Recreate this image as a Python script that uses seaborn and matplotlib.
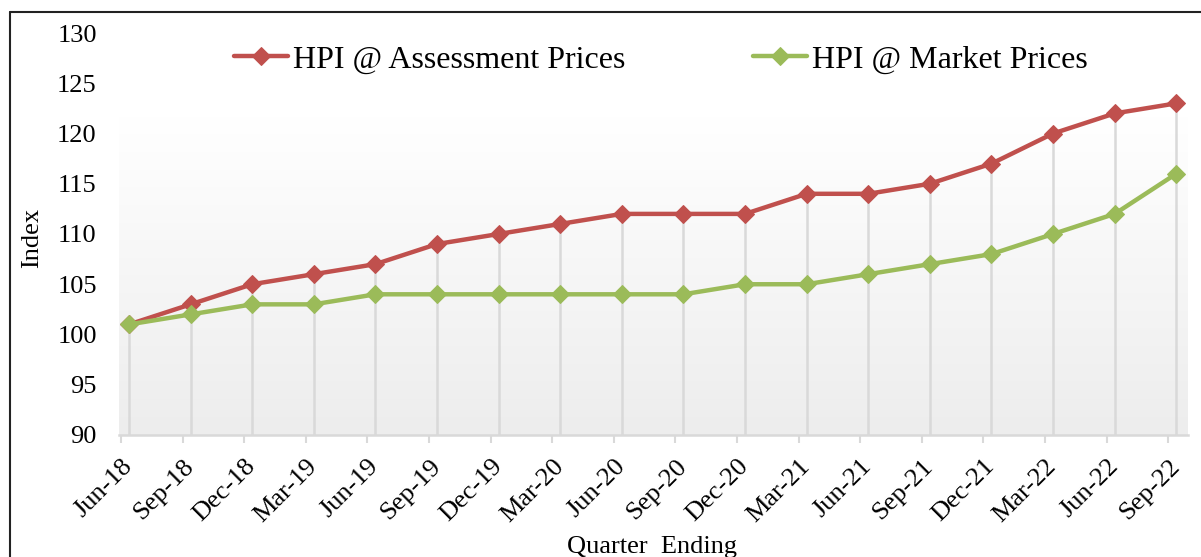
import numpy as np
import pandas as pd
import matplotlib
matplotlib.use("Agg")
import matplotlib.pyplot as plt
import seaborn as sns
from matplotlib.colors import LinearSegmentedColormap
from matplotlib.lines import Line2D

quarters = ['Jun-18', 'Sep-18', 'Dec-18', 'Mar-19', 'Jun-19', 'Sep-19', 'Dec-19', 'Mar-20', 'Jun-20',
            'Sep-20', 'Dec-20', 'Mar-21', 'Jun-21', 'Sep-21', 'Dec-21', 'Mar-22', 'Jun-22', 'Sep-22']
hpi_assessment = [101, 103, 105, 106, 107, 109, 110, 111, 112, 112, 112, 114, 114, 115, 117, 120, 122, 123]
hpi_market = [101, 102, 103, 103, 104, 104, 104, 104, 104, 104, 105, 105, 106, 107, 108, 110, 112, 116]
y_ticks = [90, 95, 100, 105, 110, 115, 120, 125, 130]

RED = '#C0504D'
GREEN = '#9BBB59'

sns.set_theme(style='white')
plt.rcParams['font.family'] = ['Liberation Serif', 'DejaVu Serif']
plt.rcParams['text.color'] = 'black'
plt.rcParams['axes.labelcolor'] = 'black'
plt.rcParams['xtick.labelcolor'] = 'black'
plt.rcParams['ytick.labelcolor'] = 'black'

x = np.arange(len(quarters))
df = pd.DataFrame({'x': x, 'assess': hpi_assessment, 'market': hpi_market})

fig = plt.figure(figsize=(12.01, 5.57), dpi=100)
ax = fig.add_axes([119 / 1201, (557 - 435) / 557, (1188 - 119) / 1201, (435 - 33) / 557])
xlim = (-0.162, 17.19)

# gradient plot-area fill (only lower part, like the Excel plot area)
cmap = LinearSegmentedColormap.from_list('g', ['#FFFFFF', '#EDEDED'])
grad = np.linspace(0, 1, 256).reshape(-1, 1)
ax.imshow(grad, cmap=cmap, aspect='auto', extent=[xlim[0], xlim[1], 90, 121.74],
          origin='upper', zorder=0)

# drop lines
ax.vlines(x, 90, np.maximum(hpi_assessment, hpi_market), color='#D9D9D9', lw=1.8, zorder=1)

sns.lineplot(data=df, x='x', y='assess', ax=ax, color=RED, lw=3.2, marker='D', markersize=9,
             markeredgecolor=RED, label='HPI @ Assessment Prices', zorder=3)
sns.lineplot(data=df, x='x', y='market', ax=ax, color=GREEN, lw=3.2, marker='D', markersize=9,
             markeredgecolor=GREEN, label='HPI @ Market Prices', zorder=3)

ax.set_xlim(*xlim)
ax.set_ylim(90, 130)
ax.set_yticks(y_ticks)
ax.set_yticklabels([str(v) for v in y_ticks], fontsize=19)
ax.tick_params(axis='y', length=0, pad=16)

ax.set_xticks(x)
ax.set_xticklabels(quarters, fontsize=19, rotation=45, ha='right', va='center', rotation_mode='anchor')
ax.set_xticks(x - 0.13, minor=True)
ax.tick_params(axis='x', which='major', length=0, pad=20)
ax.tick_params(axis='x', which='minor', length=6, width=1.5, color='#D9D9D9', direction='out', bottom=True)

for s in ['top', 'right', 'left']:
    ax.spines[s].set_visible(False)
ax.spines['bottom'].set_color('#D9D9D9')
ax.spines['bottom'].set_linewidth(1.8)

ax.set_ylabel('Index', fontsize=19)
ax.yaxis.set_label_coords(-0.071, 0.49)
ax.set_xlabel('Quarter  Ending', fontsize=19, va='top')
ax.xaxis.set_label_coords(0.4986, -0.252)

leg = ax.legend(loc='center', bbox_to_anchor=(0.507, 0.933), ncol=2, frameon=False, fontsize=23,
                handlelength=1.7, handletextpad=0.15, columnspacing=4.0)

# outer chart border (only left and top visible)
fig.add_artist(Line2D([10 / 1201, 10 / 1201], [-0.1, (557 - 12) / 557], color='#222222', lw=1.5))
fig.add_artist(Line2D([10 / 1201, 1.1], [(557 - 12) / 557, (557 - 12) / 557], color='#222222', lw=1.5))

fig.savefig('out.png', dpi=100)
